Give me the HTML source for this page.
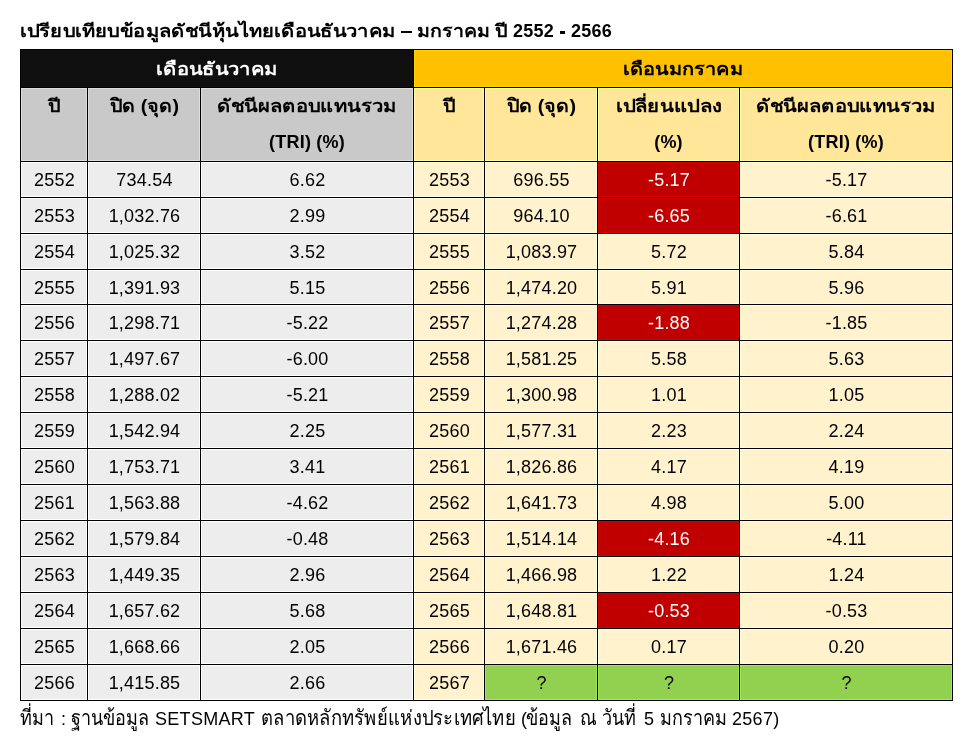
<!DOCTYPE html>
<html><head><meta charset="utf-8"><style>
html,body{margin:0;padding:0;background:#fff;width:967px;height:743px;overflow:hidden}
body{position:relative;font-family:"Liberation Sans",sans-serif;font-size:18px;color:#000}
.c{position:absolute;will-change:transform;box-sizing:border-box;border:1px solid #000;text-align:center;white-space:nowrap;overflow:hidden}
.h1{font-weight:bold;line-height:35px;padding-top:2px}
.h2{font-weight:bold;line-height:36px;letter-spacing:0.2px}
.d{line-height:36px;letter-spacing:0.2px;padding-left:1px}
.w{color:#fff}
.sx{display:inline-block;transform-origin:50% 50%;letter-spacing:0}
.tt{position:absolute;top:19px;font-weight:bold;line-height:24px;white-space:nowrap;will-change:transform;transform-origin:0 50%}
.tt.l{top:19px;letter-spacing:0.2px}
.bar{position:absolute;background:#000}
.f{position:absolute;top:707px;font-size:18px;line-height:24px;white-space:nowrap;will-change:transform}
.fs{transform-origin:0 18.2px}
.f:not(.fs){letter-spacing:0.3px}
</style></head><body>
<span class="tt t" style="left:20.2px;transform:scaleX(1.121)">เปรียบเทียบข้อมูลดัชนีหุ้นไทยเดือนธันวาคม</span>
<span class="tt t" style="left:417.0px;transform:scaleX(1.088)">มกราคม</span>
<span class="tt t" style="left:495.0px;transform:scaleX(1.1)">ปี</span>
<span class="tt l" style="left:513.4px">2552</span>
<span class="tt l" style="left:570.5px">2566</span>
<div class="bar" style="left:401px;top:31px;width:11px;height:2px"></div>
<div class="bar" style="left:560px;top:31px;width:5px;height:3px"></div>
<div class="c h1 w" style="left:20px;top:49px;width:394px;height:39px;background:#0f0f0f;box-shadow:inset 0 0 0 1px #101010"><span class="sx" style="transform:scaleX(1.122)">เดือนธันวาคม</span></div>
<div class="c h1" style="left:413px;top:49px;width:540px;height:39px;background:#ffc000;box-shadow:inset 0 0 0 1px #ffd300"><span class="sx" style="transform:scaleX(1.111)">เดือนมกราคม</span></div>
<div class="c h2" style="left:20px;top:87px;width:68px;height:75px;background:#c9c9c9;box-shadow:inset 0 0 0 1px #dddddd"><span class="sx" style="transform:scaleX(1.1)">ปี</span></div>
<div class="c h2" style="left:87px;top:87px;width:114px;height:75px;background:#c9c9c9;box-shadow:inset 0 0 0 1px #dddddd"><span class="sx" style="transform:scaleX(1.097)">ปิด (จุด)</span></div>
<div class="c h2" style="left:200px;top:87px;width:214px;height:75px;background:#c9c9c9;box-shadow:inset 0 0 0 1px #dddddd"><span class="sx" style="transform:scaleX(1.123)">ดัชนีผลตอบแทนรวม</span><br>(TRI) (%)</div>
<div class="c h2" style="left:413px;top:87px;width:72px;height:75px;background:#ffe699;box-shadow:inset 0 0 0 1px #fffda8"><span class="sx" style="transform:scaleX(1.1)">ปี</span></div>
<div class="c h2" style="left:484px;top:87px;width:114px;height:75px;background:#ffe699;box-shadow:inset 0 0 0 1px #fffda8"><span class="sx" style="transform:scaleX(1.097)">ปิด (จุด)</span></div>
<div class="c h2" style="left:597px;top:87px;width:143px;height:75px;background:#ffe699;box-shadow:inset 0 0 0 1px #fffda8"><span class="sx" style="transform:scaleX(1.134)">เปลี่ยนแปลง</span><br>(%)</div>
<div class="c h2" style="left:739px;top:87px;width:214px;height:75px;background:#ffe699;box-shadow:inset 0 0 0 1px #fffda8"><span class="sx" style="transform:scaleX(1.123)">ดัชนีผลตอบแทนรวม</span><br>(TRI) (%)</div>
<div class="c d" style="left:20px;top:161px;width:68px;height:37px;background:#ededed;box-shadow:inset 0 0 0 1px #ffffff">2552</div>
<div class="c d" style="left:87px;top:161px;width:114px;height:37px;background:#ededed;box-shadow:inset 0 0 0 1px #ffffff">734.54</div>
<div class="c d" style="left:200px;top:161px;width:214px;height:37px;background:#ededed;box-shadow:inset 0 0 0 1px #ffffff">6.62</div>
<div class="c d" style="left:20px;top:197px;width:68px;height:37px;background:#ededed;box-shadow:inset 0 0 0 1px #ffffff">2553</div>
<div class="c d" style="left:87px;top:197px;width:114px;height:37px;background:#ededed;box-shadow:inset 0 0 0 1px #ffffff">1,032.76</div>
<div class="c d" style="left:200px;top:197px;width:214px;height:37px;background:#ededed;box-shadow:inset 0 0 0 1px #ffffff">2.99</div>
<div class="c d" style="left:20px;top:233px;width:68px;height:37px;background:#ededed;box-shadow:inset 0 0 0 1px #ffffff">2554</div>
<div class="c d" style="left:87px;top:233px;width:114px;height:37px;background:#ededed;box-shadow:inset 0 0 0 1px #ffffff">1,025.32</div>
<div class="c d" style="left:200px;top:233px;width:214px;height:37px;background:#ededed;box-shadow:inset 0 0 0 1px #ffffff">3.52</div>
<div class="c d" style="left:20px;top:269px;width:68px;height:36px;background:#ededed;box-shadow:inset 0 0 0 1px #ffffff">2555</div>
<div class="c d" style="left:87px;top:269px;width:114px;height:36px;background:#ededed;box-shadow:inset 0 0 0 1px #ffffff">1,391.93</div>
<div class="c d" style="left:200px;top:269px;width:214px;height:36px;background:#ededed;box-shadow:inset 0 0 0 1px #ffffff">5.15</div>
<div class="c d" style="left:20px;top:304px;width:68px;height:37px;background:#ededed;box-shadow:inset 0 0 0 1px #ffffff">2556</div>
<div class="c d" style="left:87px;top:304px;width:114px;height:37px;background:#ededed;box-shadow:inset 0 0 0 1px #ffffff">1,298.71</div>
<div class="c d" style="left:200px;top:304px;width:214px;height:37px;background:#ededed;box-shadow:inset 0 0 0 1px #ffffff">-5.22</div>
<div class="c d" style="left:20px;top:340px;width:68px;height:37px;background:#ededed;box-shadow:inset 0 0 0 1px #ffffff">2557</div>
<div class="c d" style="left:87px;top:340px;width:114px;height:37px;background:#ededed;box-shadow:inset 0 0 0 1px #ffffff">1,497.67</div>
<div class="c d" style="left:200px;top:340px;width:214px;height:37px;background:#ededed;box-shadow:inset 0 0 0 1px #ffffff">-6.00</div>
<div class="c d" style="left:20px;top:376px;width:68px;height:37px;background:#ededed;box-shadow:inset 0 0 0 1px #ffffff">2558</div>
<div class="c d" style="left:87px;top:376px;width:114px;height:37px;background:#ededed;box-shadow:inset 0 0 0 1px #ffffff">1,288.02</div>
<div class="c d" style="left:200px;top:376px;width:214px;height:37px;background:#ededed;box-shadow:inset 0 0 0 1px #ffffff">-5.21</div>
<div class="c d" style="left:20px;top:412px;width:68px;height:37px;background:#ededed;box-shadow:inset 0 0 0 1px #ffffff">2559</div>
<div class="c d" style="left:87px;top:412px;width:114px;height:37px;background:#ededed;box-shadow:inset 0 0 0 1px #ffffff">1,542.94</div>
<div class="c d" style="left:200px;top:412px;width:214px;height:37px;background:#ededed;box-shadow:inset 0 0 0 1px #ffffff">2.25</div>
<div class="c d" style="left:20px;top:448px;width:68px;height:37px;background:#ededed;box-shadow:inset 0 0 0 1px #ffffff">2560</div>
<div class="c d" style="left:87px;top:448px;width:114px;height:37px;background:#ededed;box-shadow:inset 0 0 0 1px #ffffff">1,753.71</div>
<div class="c d" style="left:200px;top:448px;width:214px;height:37px;background:#ededed;box-shadow:inset 0 0 0 1px #ffffff">3.41</div>
<div class="c d" style="left:20px;top:484px;width:68px;height:37px;background:#ededed;box-shadow:inset 0 0 0 1px #ffffff">2561</div>
<div class="c d" style="left:87px;top:484px;width:114px;height:37px;background:#ededed;box-shadow:inset 0 0 0 1px #ffffff">1,563.88</div>
<div class="c d" style="left:200px;top:484px;width:214px;height:37px;background:#ededed;box-shadow:inset 0 0 0 1px #ffffff">-4.62</div>
<div class="c d" style="left:20px;top:520px;width:68px;height:37px;background:#ededed;box-shadow:inset 0 0 0 1px #ffffff">2562</div>
<div class="c d" style="left:87px;top:520px;width:114px;height:37px;background:#ededed;box-shadow:inset 0 0 0 1px #ffffff">1,579.84</div>
<div class="c d" style="left:200px;top:520px;width:214px;height:37px;background:#ededed;box-shadow:inset 0 0 0 1px #ffffff">-0.48</div>
<div class="c d" style="left:20px;top:556px;width:68px;height:37px;background:#ededed;box-shadow:inset 0 0 0 1px #ffffff">2563</div>
<div class="c d" style="left:87px;top:556px;width:114px;height:37px;background:#ededed;box-shadow:inset 0 0 0 1px #ffffff">1,449.35</div>
<div class="c d" style="left:200px;top:556px;width:214px;height:37px;background:#ededed;box-shadow:inset 0 0 0 1px #ffffff">2.96</div>
<div class="c d" style="left:20px;top:592px;width:68px;height:37px;background:#ededed;box-shadow:inset 0 0 0 1px #ffffff">2564</div>
<div class="c d" style="left:87px;top:592px;width:114px;height:37px;background:#ededed;box-shadow:inset 0 0 0 1px #ffffff">1,657.62</div>
<div class="c d" style="left:200px;top:592px;width:214px;height:37px;background:#ededed;box-shadow:inset 0 0 0 1px #ffffff">5.68</div>
<div class="c d" style="left:20px;top:628px;width:68px;height:37px;background:#ededed;box-shadow:inset 0 0 0 1px #ffffff">2565</div>
<div class="c d" style="left:87px;top:628px;width:114px;height:37px;background:#ededed;box-shadow:inset 0 0 0 1px #ffffff">1,668.66</div>
<div class="c d" style="left:200px;top:628px;width:214px;height:37px;background:#ededed;box-shadow:inset 0 0 0 1px #ffffff">2.05</div>
<div class="c d" style="left:20px;top:664px;width:68px;height:37px;background:#ededed;box-shadow:inset 0 0 0 1px #ffffff">2566</div>
<div class="c d" style="left:87px;top:664px;width:114px;height:37px;background:#ededed;box-shadow:inset 0 0 0 1px #ffffff">1,415.85</div>
<div class="c d" style="left:200px;top:664px;width:214px;height:37px;background:#ededed;box-shadow:inset 0 0 0 1px #ffffff">2.66</div>
<div class="c d" style="left:413px;top:161px;width:72px;height:37px;background:#fff2cc;box-shadow:inset 0 0 0 1px #ffffe0">2553</div>
<div class="c d" style="left:484px;top:161px;width:114px;height:37px;background:#fff2cc;box-shadow:inset 0 0 0 1px #ffffe0">696.55</div>
<div class="c d w" style="left:597px;top:161px;width:143px;height:37px;background:#c00000;box-shadow:inset 0 0 0 1px #d30000">-5.17</div>
<div class="c d" style="left:739px;top:161px;width:214px;height:37px;background:#fff2cc;box-shadow:inset 0 0 0 1px #ffffe0">-5.17</div>
<div class="c d" style="left:413px;top:197px;width:72px;height:37px;background:#fff2cc;box-shadow:inset 0 0 0 1px #ffffe0">2554</div>
<div class="c d" style="left:484px;top:197px;width:114px;height:37px;background:#fff2cc;box-shadow:inset 0 0 0 1px #ffffe0">964.10</div>
<div class="c d w" style="left:597px;top:197px;width:143px;height:37px;background:#c00000;box-shadow:inset 0 0 0 1px #d30000">-6.65</div>
<div class="c d" style="left:739px;top:197px;width:214px;height:37px;background:#fff2cc;box-shadow:inset 0 0 0 1px #ffffe0">-6.61</div>
<div class="c d" style="left:413px;top:233px;width:72px;height:37px;background:#fff2cc;box-shadow:inset 0 0 0 1px #ffffe0">2555</div>
<div class="c d" style="left:484px;top:233px;width:114px;height:37px;background:#fff2cc;box-shadow:inset 0 0 0 1px #ffffe0">1,083.97</div>
<div class="c d" style="left:597px;top:233px;width:143px;height:37px;background:#fff2cc;box-shadow:inset 0 0 0 1px #ffffe0">5.72</div>
<div class="c d" style="left:739px;top:233px;width:214px;height:37px;background:#fff2cc;box-shadow:inset 0 0 0 1px #ffffe0">5.84</div>
<div class="c d" style="left:413px;top:269px;width:72px;height:36px;background:#fff2cc;box-shadow:inset 0 0 0 1px #ffffe0">2556</div>
<div class="c d" style="left:484px;top:269px;width:114px;height:36px;background:#fff2cc;box-shadow:inset 0 0 0 1px #ffffe0">1,474.20</div>
<div class="c d" style="left:597px;top:269px;width:143px;height:36px;background:#fff2cc;box-shadow:inset 0 0 0 1px #ffffe0">5.91</div>
<div class="c d" style="left:739px;top:269px;width:214px;height:36px;background:#fff2cc;box-shadow:inset 0 0 0 1px #ffffe0">5.96</div>
<div class="c d" style="left:413px;top:304px;width:72px;height:37px;background:#fff2cc;box-shadow:inset 0 0 0 1px #ffffe0">2557</div>
<div class="c d" style="left:484px;top:304px;width:114px;height:37px;background:#fff2cc;box-shadow:inset 0 0 0 1px #ffffe0">1,274.28</div>
<div class="c d w" style="left:597px;top:304px;width:143px;height:37px;background:#c00000;box-shadow:inset 0 0 0 1px #d30000">-1.88</div>
<div class="c d" style="left:739px;top:304px;width:214px;height:37px;background:#fff2cc;box-shadow:inset 0 0 0 1px #ffffe0">-1.85</div>
<div class="c d" style="left:413px;top:340px;width:72px;height:37px;background:#fff2cc;box-shadow:inset 0 0 0 1px #ffffe0">2558</div>
<div class="c d" style="left:484px;top:340px;width:114px;height:37px;background:#fff2cc;box-shadow:inset 0 0 0 1px #ffffe0">1,581.25</div>
<div class="c d" style="left:597px;top:340px;width:143px;height:37px;background:#fff2cc;box-shadow:inset 0 0 0 1px #ffffe0">5.58</div>
<div class="c d" style="left:739px;top:340px;width:214px;height:37px;background:#fff2cc;box-shadow:inset 0 0 0 1px #ffffe0">5.63</div>
<div class="c d" style="left:413px;top:376px;width:72px;height:37px;background:#fff2cc;box-shadow:inset 0 0 0 1px #ffffe0">2559</div>
<div class="c d" style="left:484px;top:376px;width:114px;height:37px;background:#fff2cc;box-shadow:inset 0 0 0 1px #ffffe0">1,300.98</div>
<div class="c d" style="left:597px;top:376px;width:143px;height:37px;background:#fff2cc;box-shadow:inset 0 0 0 1px #ffffe0">1.01</div>
<div class="c d" style="left:739px;top:376px;width:214px;height:37px;background:#fff2cc;box-shadow:inset 0 0 0 1px #ffffe0">1.05</div>
<div class="c d" style="left:413px;top:412px;width:72px;height:37px;background:#fff2cc;box-shadow:inset 0 0 0 1px #ffffe0">2560</div>
<div class="c d" style="left:484px;top:412px;width:114px;height:37px;background:#fff2cc;box-shadow:inset 0 0 0 1px #ffffe0">1,577.31</div>
<div class="c d" style="left:597px;top:412px;width:143px;height:37px;background:#fff2cc;box-shadow:inset 0 0 0 1px #ffffe0">2.23</div>
<div class="c d" style="left:739px;top:412px;width:214px;height:37px;background:#fff2cc;box-shadow:inset 0 0 0 1px #ffffe0">2.24</div>
<div class="c d" style="left:413px;top:448px;width:72px;height:37px;background:#fff2cc;box-shadow:inset 0 0 0 1px #ffffe0">2561</div>
<div class="c d" style="left:484px;top:448px;width:114px;height:37px;background:#fff2cc;box-shadow:inset 0 0 0 1px #ffffe0">1,826.86</div>
<div class="c d" style="left:597px;top:448px;width:143px;height:37px;background:#fff2cc;box-shadow:inset 0 0 0 1px #ffffe0">4.17</div>
<div class="c d" style="left:739px;top:448px;width:214px;height:37px;background:#fff2cc;box-shadow:inset 0 0 0 1px #ffffe0">4.19</div>
<div class="c d" style="left:413px;top:484px;width:72px;height:37px;background:#fff2cc;box-shadow:inset 0 0 0 1px #ffffe0">2562</div>
<div class="c d" style="left:484px;top:484px;width:114px;height:37px;background:#fff2cc;box-shadow:inset 0 0 0 1px #ffffe0">1,641.73</div>
<div class="c d" style="left:597px;top:484px;width:143px;height:37px;background:#fff2cc;box-shadow:inset 0 0 0 1px #ffffe0">4.98</div>
<div class="c d" style="left:739px;top:484px;width:214px;height:37px;background:#fff2cc;box-shadow:inset 0 0 0 1px #ffffe0">5.00</div>
<div class="c d" style="left:413px;top:520px;width:72px;height:37px;background:#fff2cc;box-shadow:inset 0 0 0 1px #ffffe0">2563</div>
<div class="c d" style="left:484px;top:520px;width:114px;height:37px;background:#fff2cc;box-shadow:inset 0 0 0 1px #ffffe0">1,514.14</div>
<div class="c d w" style="left:597px;top:520px;width:143px;height:37px;background:#c00000;box-shadow:inset 0 0 0 1px #d30000">-4.16</div>
<div class="c d" style="left:739px;top:520px;width:214px;height:37px;background:#fff2cc;box-shadow:inset 0 0 0 1px #ffffe0">-4.11</div>
<div class="c d" style="left:413px;top:556px;width:72px;height:37px;background:#fff2cc;box-shadow:inset 0 0 0 1px #ffffe0">2564</div>
<div class="c d" style="left:484px;top:556px;width:114px;height:37px;background:#fff2cc;box-shadow:inset 0 0 0 1px #ffffe0">1,466.98</div>
<div class="c d" style="left:597px;top:556px;width:143px;height:37px;background:#fff2cc;box-shadow:inset 0 0 0 1px #ffffe0">1.22</div>
<div class="c d" style="left:739px;top:556px;width:214px;height:37px;background:#fff2cc;box-shadow:inset 0 0 0 1px #ffffe0">1.24</div>
<div class="c d" style="left:413px;top:592px;width:72px;height:37px;background:#fff2cc;box-shadow:inset 0 0 0 1px #ffffe0">2565</div>
<div class="c d" style="left:484px;top:592px;width:114px;height:37px;background:#fff2cc;box-shadow:inset 0 0 0 1px #ffffe0">1,648.81</div>
<div class="c d w" style="left:597px;top:592px;width:143px;height:37px;background:#c00000;box-shadow:inset 0 0 0 1px #d30000">-0.53</div>
<div class="c d" style="left:739px;top:592px;width:214px;height:37px;background:#fff2cc;box-shadow:inset 0 0 0 1px #ffffe0">-0.53</div>
<div class="c d" style="left:413px;top:628px;width:72px;height:37px;background:#fff2cc;box-shadow:inset 0 0 0 1px #ffffe0">2566</div>
<div class="c d" style="left:484px;top:628px;width:114px;height:37px;background:#fff2cc;box-shadow:inset 0 0 0 1px #ffffe0">1,671.46</div>
<div class="c d" style="left:597px;top:628px;width:143px;height:37px;background:#fff2cc;box-shadow:inset 0 0 0 1px #ffffe0">0.17</div>
<div class="c d" style="left:739px;top:628px;width:214px;height:37px;background:#fff2cc;box-shadow:inset 0 0 0 1px #ffffe0">0.20</div>
<div class="c d" style="left:413px;top:664px;width:72px;height:37px;background:#fff2cc;box-shadow:inset 0 0 0 1px #ffffe0">2567</div>
<div class="c d" style="left:484px;top:664px;width:114px;height:37px;background:#92d050;box-shadow:inset 0 0 0 1px #a1e558">?</div>
<div class="c d" style="left:597px;top:664px;width:143px;height:37px;background:#92d050;box-shadow:inset 0 0 0 1px #a1e558">?</div>
<div class="c d" style="left:739px;top:664px;width:214px;height:37px;background:#92d050;box-shadow:inset 0 0 0 1px #a1e558">?</div>
<span class="f fs" style="left:20.3px;transform:scale(1,1.17)">ที่มา</span>
<span class="f" style="left:60.8px">:</span>
<span class="f fs" style="left:71.1px;transform:scale(1,1.17)">ฐานข้อมูล</span>
<span class="f" style="left:154.6px">SETSMART</span>
<span class="f fs" style="left:261.1px;transform:scale(1.024,1.17)">ตลาดหลักทรัพย์แห่งประเทศไทย</span>
<span class="f" style="left:520.8px">(</span>
<span class="f fs" style="left:526.3px;transform:scale(1,1.17)">ข้อมูล</span>
<span class="f fs" style="left:580.0px;transform:scale(1,1.17)">ณ</span>
<span class="f fs" style="left:601.6px;transform:scale(1,1.17)">วันที่</span>
<span class="f" style="left:643.8px">5</span>
<span class="f fs" style="left:659.7px;transform:scale(1,1.17)">มกราคม</span>
<span class="f" style="left:731.7px">2567)</span>
</body></html>
